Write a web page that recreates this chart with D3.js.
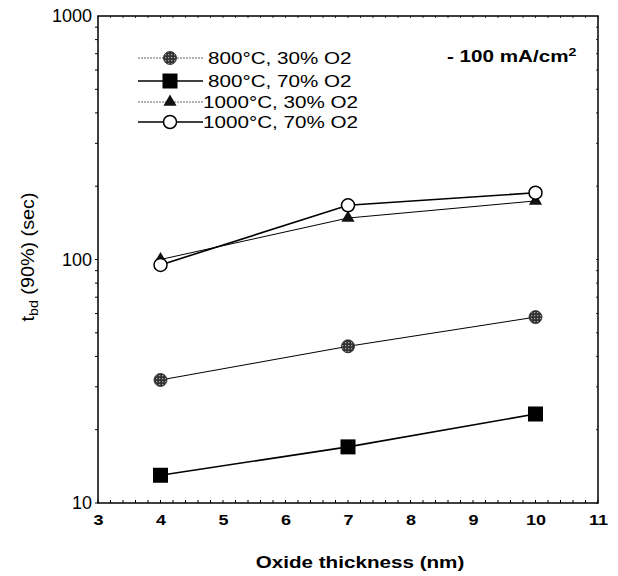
<!DOCTYPE html>
<html>
  <head>
    <meta charset="utf-8">
    <style>
      body { margin: 0; background: #fff; }
      svg { font-family: "Liberation Sans", Arial, sans-serif; }
    </style>
    <script src="https://cdn.jsdelivr.net/npm/d3@7"></script>
  </head>
  <body>
    <svg id="chart" width="618" height="576"></svg>
    <script>
      // oxide thickness (nm)
      const thickness = [4, 7, 10];
      // tbd (90%) in seconds, one array per oxidation condition
      const s800_30 = [32, 44, 58];
      const s800_70 = [13, 17, 23.2];
      const s1000_30 = [100, 148, 174];
      const s1000_70 = [95, 167, 188];

      const seriesNames = ["800°C, 30% O2", "800°C, 70% O2", "1000°C, 30% O2", "1000°C, 70% O2"];
      const xTicks = [3, 4, 5, 6, 7, 8, 9, 10, 11];
      const yTicks = [10, 100, 1000];

      const series = [
        { name: seriesNames[0], values: s800_30, marker: "dot", lw: 1, legendDash: "2,1", legendColor: "#666" },
        { name: seriesNames[1], values: s800_70, marker: "square", lw: 1.6, legendDash: null, legendColor: "#000" },
        { name: seriesNames[2], values: s1000_30, marker: "triangle", lw: 1, legendDash: "2,1", legendColor: "#666" },
        { name: seriesNames[3], values: s1000_70, marker: "ring", lw: 1.6, legendDash: null, legendColor: "#000" }
      ];

      const svg = d3.select("#chart");
      const plotL = 98, plotR = 598, plotT = 16, plotB = 503;
      const SX = 1.29; // the original lettering is drawn a bit wide

      const x = d3.scaleLinear().domain([3, 11]).range([plotL, plotR]);
      const y = d3.scaleLog().domain([10, 1000]).range([plotB, plotT]);

      // text placed at (tx,ty) and stretched horizontally
      function wideText(tx, ty, sx) {
        return svg.append("text").attr("transform", `translate(${tx},${ty}) scale(${sx},1)`);
      }

      // pattern for the gray hatched dots
      const defs = svg.append("defs");
      const pat = defs.append("pattern").attr("id", "hatch")
        .attr("width", 3).attr("height", 3).attr("patternUnits", "userSpaceOnUse");
      pat.append("rect").attr("width", 3).attr("height", 3).attr("fill", "#333");
      pat.append("rect").attr("width", 1.2).attr("height", 1.2).attr("fill", "#aaa");

      // minor ticks
      const xMinor = d3.range(3, 11.001, 0.2);
      svg.append("g").selectAll("line").data(xMinor).join("line")
        .attr("x1", d => x(d)).attr("x2", d => x(d))
        .attr("y1", plotB).attr("y2", plotB - 3)
        .attr("stroke", "#000").attr("stroke-width", 1);
      svg.append("g").selectAll("line").data(xMinor).join("line")
        .attr("x1", d => x(d)).attr("x2", d => x(d))
        .attr("y1", plotT).attr("y2", plotT + 2)
        .attr("stroke", "#000").attr("stroke-width", 0.8);

      const yMinor = [];
      [10, 100].forEach(dec => d3.range(1, 10).forEach(m => yMinor.push(dec * m)));
      svg.append("g").selectAll("line").data(yMinor).join("line")
        .attr("x1", plotL).attr("x2", plotL - 3)
        .attr("y1", d => y(d)).attr("y2", d => y(d))
        .attr("stroke", "#000").attr("stroke-width", 1);
      svg.append("g").selectAll("line").data(yMinor).join("line")
        .attr("x1", plotR).attr("x2", plotR - 2)
        .attr("y1", d => y(d)).attr("y2", d => y(d))
        .attr("stroke", "#000").attr("stroke-width", 0.8);

      // axes labels through d3 axes
      const xAxis = svg.append("g")
        .attr("transform", `translate(0,${plotB})`)
        .call(d3.axisBottom(x).tickValues(xTicks).tickSize(0).tickPadding(11).tickFormat(d3.format("d")));
      xAxis.select(".domain").remove();
      xAxis.selectAll("text").attr("font-size", 15).attr("font-weight", "bold")
        .attr("font-family", "Liberation Sans, Arial, sans-serif").attr("fill", "#000")
        .attr("transform", "scale(1.2,1)");

      const yAxis = svg.append("g")
        .attr("transform", `translate(${plotL},0)`)
        .call(d3.axisLeft(y).tickValues(yTicks).tickSize(0).tickPadding(6).tickFormat(d3.format("d")));
      yAxis.select(".domain").remove();
      yAxis.selectAll("text").attr("font-size", 18)
        .attr("font-family", "Liberation Sans, Arial, sans-serif").attr("fill", "#000");

      // frame
      svg.append("rect")
        .attr("x", plotL).attr("y", plotT)
        .attr("width", plotR - plotL).attr("height", plotB - plotT)
        .attr("fill", "none").attr("stroke", "#000").attr("stroke-width", 1.5);

      // axis titles
      wideText(360, 568, SX)
        .attr("text-anchor", "middle").attr("font-size", 16).attr("font-weight", "bold")
        .text("Oxide thickness (nm)");

      const yt = svg.append("text")
        .attr("transform", "translate(34,257) rotate(-90) scale(1.1,1)")
        .attr("text-anchor", "middle").attr("font-size", 18);
      yt.append("tspan").text("t");
      yt.append("tspan").attr("font-size", 13).attr("dy", 4).text("bd");
      yt.append("tspan").attr("dy", -4).text(" (90%) (sec)");

      // marker drawing
      function drawMarker(g, type, cx, cy) {
        if (type === "dot") {
          g.append("circle").attr("cx", cx).attr("cy", cy).attr("r", 6.5)
            .attr("fill", "url(#hatch)").attr("stroke", "#222").attr("stroke-width", 0.8);
        } else if (type === "square") {
          g.append("rect").attr("x", cx - 7.5).attr("y", cy - 7.5)
            .attr("width", 15).attr("height", 15).attr("fill", "#000");
        } else if (type === "triangle") {
          g.append("path").attr("d", d3.symbol(d3.symbolTriangle, 75)())
            .attr("transform", `translate(${cx},${cy})`)
            .attr("fill", "#111");
        } else {
          g.append("circle").attr("cx", cx).attr("cy", cy).attr("r", 6.5)
            .attr("fill", "#fff").attr("stroke", "#000").attr("stroke-width", 1.5);
        }
      }

      const line = d3.line().x(d => x(d[0])).y(d => y(d[1]));

      series.forEach(s => {
        const pts = thickness.map((t, i) => [t, s.values[i]]);
        const g = svg.append("g");
        g.append("path").datum(pts).attr("d", line)
          .attr("fill", "none").attr("stroke", "#000").attr("stroke-width", s.lw);
        pts.forEach(p => drawMarker(g, s.marker, x(p[0]), y(p[1])));
      });

      // legend
      const legendY = [58, 81, 102, 122];
      const lg = svg.append("g");
      series.forEach((s, i) => {
        const ly = legendY[i];
        lg.append("line").attr("x1", 138).attr("x2", 203).attr("y1", ly).attr("y2", ly)
          .attr("stroke", s.legendColor).attr("stroke-width", s.legendDash ? 1.2 : 1.6)
          .attr("stroke-dasharray", s.legendDash);
        drawMarker(lg, s.marker, 170, ly);
        wideText(s.name.startsWith("1000") ? 203 : 208, ly + 6, SX)
          .attr("font-size", 16).text(s.name);
      });

      // current density note
      const note = wideText(447, 62, SX)
        .attr("font-size", 16).attr("font-weight", "bold");
      note.append("tspan").text("- 100 mA/cm");
      note.append("tspan").attr("font-size", 11).attr("dy", -6).text("2");
    </script>
  </body>
</html>
